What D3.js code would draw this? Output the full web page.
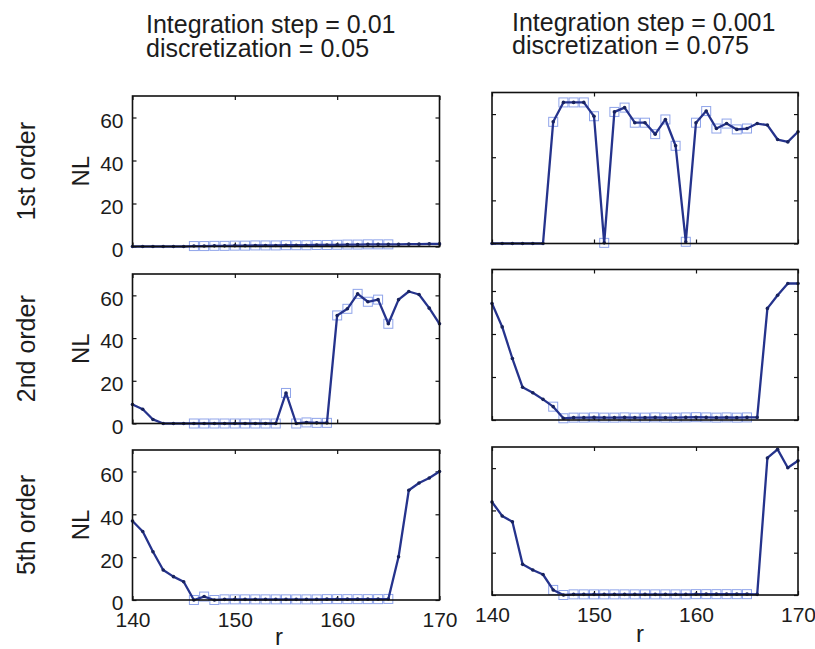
<!DOCTYPE html>
<html><head><meta charset="utf-8">
<script src="https://cdn.jsdelivr.net/npm/d3@7/dist/d3.min.js"></script>
<style>
body{margin:0;background:#fff}
text{font-family:"Liberation Sans",Arial,sans-serif;fill:#1c1c1c}
</style>
</head><body>
<svg id="chart" width="815" height="649"></svg>
<script>
// ---------- data ----------
const r = [140,141,142,143,144,145,146,147,148,149,150,151,152,153,154,155,156,157,158,159,160,161,162,163,164,165,166,167,168,169,170];
const xTicks = [140,150,160,170];
const yTicks = [0,20,40,60];
const rowLabels = ["1st order","2nd order","5th order"];
const titleLine1 = ["Integration step = 0.01","Integration step = 0.001"];
const titleLine2 = ["discretization = 0.05","discretization = 0.075"];
const yLabel = "NL";
const xLabel = "r";
// r values carrying a square marker
const squareR = [146,147,148,149,150,151,152,153,154,155,156,157,158,159,160,161,162,163,164,165];

const nl1stLeft  = [0,0,0,0,0,0,0.2,0.2,0.3,0.3,0.4,0.4,0.5,0.5,0.5,0.6,0.6,0.6,0.7,0.7,0.8,0.9,0.9,1,1,1,1,1.1,1.1,1.2,1.2];
const nl1stRight = [0,0,0,0,0,0,56.4,65.4,65.4,65.4,59,0.3,61,63,56,56,50.7,57.5,45.3,0.8,56,61.4,53.3,55.6,52.9,53.3,55.6,54.9,48.2,47.1,51.8];
const nl2ndLeft  = [8.9,6.7,1.9,0,0,0,0,0,0,0,0,0,0,0,0,14.3,0,0.5,0.3,0.3,50.6,53.7,60.7,57,58,46.7,58,61.8,60.4,54,46.7];
const nl2ndRight = [54.2,43.3,28.6,15.2,12.7,9.6,6.2,0.8,1.1,1.1,1.2,1.1,1.1,1.2,1.1,1.1,1.2,1.1,1.1,1.2,1.3,1.2,1.1,1.2,1.1,1.2,1.2,51.9,58,63.5,63.5];
const nl5thLeft  = [36.9,32,22.5,14,10.9,8.5,0,1.6,0,0.3,0.3,0.3,0.3,0.3,0.3,0.3,0.3,0.3,0.3,0.4,0.4,0.4,0.4,0.4,0.4,0.5,20.2,51.2,54.6,56.9,60];
const nl5thRight = [44,37.4,34.6,14.5,11.8,9.7,2.4,0,0.3,0.3,0.3,0.3,0.3,0.3,0.3,0.3,0.3,0.3,0.3,0.3,0.4,0.4,0.4,0.4,0.4,0.4,0.3,64.8,68.9,60.2,63.5];

// ---------- layout ----------
const svg = d3.select("#chart");
const colX = [[132.5,439.5],[492,798]];
const rowY = [ // [top,bottom] per column
  [[96,246.5],[274,423.5],[450,600]],
  [[92.5,243.5],[269.5,420],[447,595]]
];
const series = [
  [nl1stLeft, nl1stRight],
  [nl2ndLeft, nl2ndRight],
  [nl5thLeft, nl5thRight]
];

const lineColor = "#25338c";
const dotColor = "#18235e";
const squareColor = "#8fa4ea";

for (let row = 0; row < 3; row++) {
  for (let col = 0; col < 2; col++) {
    const [x0,x1] = colX[col];
    const [y0,y1] = rowY[col][row];
    const x = d3.scaleLinear().domain([140,170]).range([x0,x1]);
    const y = d3.scaleLinear().domain([0,70]).range([y1,y0]);
    const vals = series[row][col];
    const pts = r.map((rv,i)=>({r:rv, v:vals[i]}));
    const g = svg.append("g");

    const showY = col === 0, showX = row === 2;
    const left = g.append("g").attr("transform",`translate(${x0},0)`)
      .call(d3.axisLeft(y).tickValues(yTicks).tickSizeInner(-4).tickSizeOuter(0).tickPadding(9)
        .tickFormat(showY ? d3.format("d") : ""));
    const right = g.append("g").attr("transform",`translate(${x1},0)`)
      .call(d3.axisRight(y).tickValues(yTicks).tickSizeInner(-4).tickSizeOuter(0).tickFormat(""));
    const top = g.append("g").attr("transform",`translate(0,${y0})`)
      .call(d3.axisTop(x).tickValues(xTicks).tickSizeInner(-4).tickSizeOuter(0).tickFormat(""));
    const bottom = g.append("g").attr("transform",`translate(0,${y1})`)
      .call(d3.axisBottom(x).tickValues(xTicks).tickSizeInner(-4).tickSizeOuter(0).tickPadding(12)
        .tickFormat(showX ? d3.format("d") : ""));
    [left,right,top,bottom].forEach(a=>{
      a.select(".domain").remove();
      a.selectAll("line").attr("stroke","#111").attr("stroke-width",1.2);
      a.selectAll("text").style("font-size","21px").attr("fill","#1c1c1c")
        .style("font-family",'"Liberation Sans",Arial,sans-serif');
    });
    left.selectAll("text").attr("dy","0.47em");

    // squares
    g.append("g").selectAll("rect").data(pts.filter(p=>squareR.includes(p.r))).join("rect")
      .attr("x",d=>x(d.r)-4.5).attr("y",d=>y(d.v)-4.5).attr("width",9).attr("height",9)
      .attr("fill","none").attr("stroke",squareColor).attr("stroke-width",1);

    // line
    g.append("path").datum(pts)
      .attr("d", d3.line().x(d=>x(d.r)).y(d=>y(d.v)))
      .attr("fill","none").attr("stroke",lineColor).attr("stroke-width",2.3).attr("stroke-linejoin","round");

    // dots
    g.append("g").selectAll("circle").data(pts).join("circle")
      .attr("cx",d=>x(d.r)).attr("cy",d=>y(d.v)).attr("r",1.8).attr("fill",dotColor);

    // frame
    g.append("rect").attr("x",x0).attr("y",y0).attr("width",x1-x0).attr("height",y1-y0)
      .attr("fill","none").attr("stroke","#111").attr("stroke-width",1.6);

    if (col === 0) {
      g.append("text").attr("transform",`translate(89,${(y0+y1)/2}) rotate(-90)`)
        .attr("text-anchor","middle").style("font-size","24px").text(yLabel);
      g.append("text").attr("transform",`translate(35,${(y0+y1)/2}) rotate(-90)`)
        .attr("text-anchor","middle").style("font-size","25px").text(rowLabels[row]);
    }
    if (row === 2) {
      g.append("text").attr("x",(x0+x1)/2 - (col===0?7:5)).attr("y", col===0?645:642)
        .attr("text-anchor","middle").style("font-size","24px").text(xLabel);
    }
  }
}

// column titles
const titleX = [146,512];
const titleY1 = [33,31], titleY2 = [57,54];
for (let c = 0; c < 2; c++) {
  svg.append("text").attr("x",titleX[c]).attr("y",titleY1[c]).style("font-size","25px").text(titleLine1[c]);
  svg.append("text").attr("x",titleX[c]).attr("y",titleY2[c]).style("font-size","25px").text(titleLine2[c]);
}
</script>
</body></html>
